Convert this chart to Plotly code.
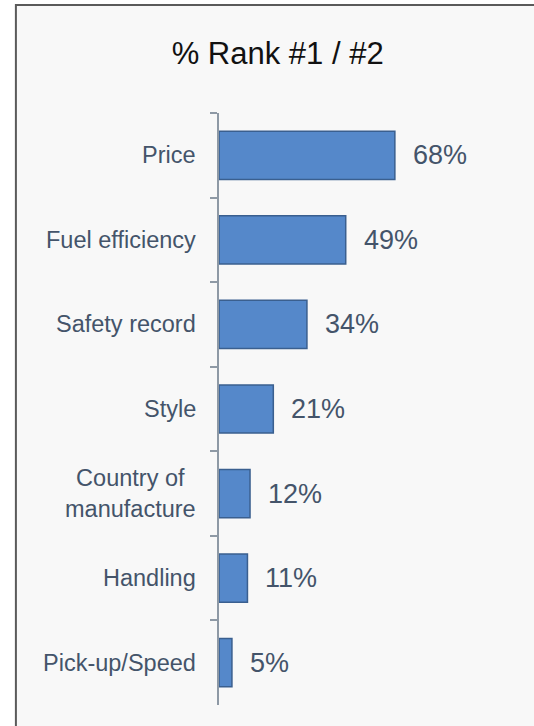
import plotly.graph_objects as go

# values
categories = ["Price", "Fuel efficiency", "Safety record", "Style",
              "Country of<br>manufacture", "Handling", "Pick-up/Speed"]
values = [68, 49, 34, 21, 12, 11, 5]
value_labels = [f"{v}%" for v in values]

FONT = "Liberation Sans, Arial, sans-serif"
TEXT_COLOR = "#44546a"
AXIS_COLOR = "#8e99a5"

fig = go.Figure(go.Bar(
    x=values,
    y=categories,
    orientation="h",
    marker=dict(color="#5588ca", line=dict(color="#3a5f8f", width=1.5)),
    hoverinfo="x+y",
))

# value labels to the right of each bar
annotations = []
for cat, v, lab in zip(categories, values, value_labels):
    annotations.append(dict(
        x=v, y=cat, xref="x", yref="y", text=lab, showarrow=False,
        xanchor="left", yanchor="middle", xshift=16,
        font=dict(size=27, color=TEXT_COLOR, family=FONT),
    ))
# category labels, centred when wrapped onto two lines
for cat in categories:
    annotations.append(dict(
        x=0, y=cat, xref="paper", yref="y", text=cat, showarrow=False,
        xanchor="right", yanchor="middle", align="center", xshift=-21,
        font=dict(size=23.5, color=TEXT_COLOR, family=FONT),
    ))

fig.update_layout(
    width=534, height=726,
    margin=dict(l=219, r=15, t=113, b=21),
    paper_bgcolor="white",
    plot_bgcolor="#f8f8f8",
    showlegend=False,
    bargap=0.43,
    title=dict(text="% Rank #1 / #2", x=0.52, xref="container", xanchor="center",
               y=0.927, yanchor="middle",
               font=dict(size=31, color="#111111", family=FONT)),
    xaxis=dict(range=[0, 116], visible=False, fixedrange=True),
    yaxis=dict(
        autorange="reversed", showticklabels=False,
        showline=True, linecolor=AXIS_COLOR, linewidth=1.5,
        ticks="outside", tickson="boundaries", ticklen=7,
        tickcolor=AXIS_COLOR, tickwidth=1.5,
        showgrid=False, zeroline=False, fixedrange=True,
    ),
    annotations=annotations,
    shapes=[dict(
        type="rect", xref="paper", yref="paper", layer="below",
        x0=-0.677, x1=1.6, y0=-0.4, y1=1.1824,
        fillcolor="#f8f8f8", line=dict(color="#5a5a5a", width=2),
    )],
)

# drop the browser's default body margin so the figure sits at the page corner
fig.write_html("out.html", config={"displayModeBar": False},
               post_script="document.body.style.margin='0';document.body.style.overflow='hidden';")
